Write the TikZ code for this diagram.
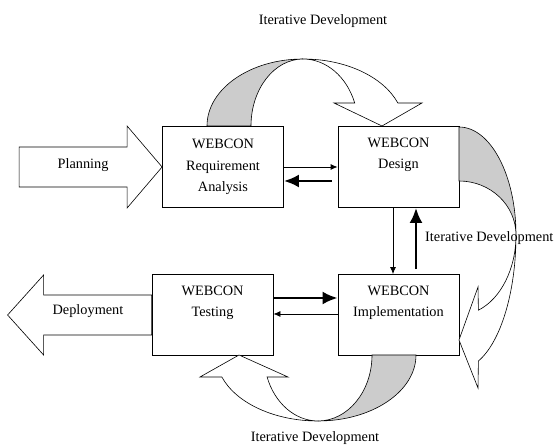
\documentclass[tikz,border=0pt]{standalone}
\usepackage{fontspec}
\setmainfont{Liberation Serif}
\usetikzlibrary{arrows.meta}
\tikzset{
  blk/.style   = {draw, line width=0.8pt, align=center, inner sep=2pt,
                  minimum width=121pt, minimum height=81pt},
  ar/.style    = {-{Latex[length=7pt,width=6pt]}, line width=0.8pt},
  arth/.style  = {-{Latex[length=15pt,width=13pt]}, line width=2.6pt},
  lbl/.style   = {inner sep=0pt},
  band/.style  = {draw, line width=0.6pt, fill=black!20},
  blank/.style = {draw, line width=0.6pt, fill=white},
}

\begin{document}
\begin{tikzpicture}[x=1pt, y=1pt, font=\fontsize{14.3}{21.5}\selectfont]
\useasboundingbox (0,0) rectangle (555,447);

% --- phase boxes ---
\node[blk] (req) at (223,280)   {WEBCON\\Requirement\\Analysis};
\node[blk] (des) at (398.5,280) {WEBCON\\Design\\\strut};
\node[blk] (imp) at (398.5,132) {WEBCON\\Implementation\\\strut};
\node[blk] (tst) at (212.5,132) {WEBCON\\Testing\\\strut};

% --- planning in, deployment out ---
\draw[blank] (req.west) -- ++(-35,-41) -- ++(0,21) -- ++(-108,0) -- ++(0,40)
     -- ++(108,0) -- ++(0,21) -- cycle;
\node (plan) at (83,282) {Planning};

\draw[blank] (tst.west) ++(0,20) -- ++(-108,0) -- ++(0,20) -- ++(-36,-40)
     -- ++(36,-40) -- ++(0,20) -- ++(108,0) -- cycle;
\node (dep) at (88,136) {Deployment};

% --- hand-offs between phases ---
\draw[ar] (req.east) -- (des.west);
\draw[arth, shorten <=6pt] ([yshift=-14pt]des.west) -- ([yshift=-14pt]req.east);
\draw[ar] ([xshift=-5.5pt]des.south) -- ([xshift=-5.5pt]imp.north);
\draw[arth, shorten <=5pt] ([xshift=17.5pt]imp.north) -- ([xshift=17.5pt]des.south);
\draw[arth] ([yshift=17pt]tst.east) -- ([yshift=17pt]imp.west);
\draw[ar] ([yshift=1pt]imp.west) -- ([yshift=1pt]tst.east);

% --- iterative development loops ---
% top: analysis -> design
\draw[band] (207,321) arc[start angle=180, end angle=90, x radius=96, y radius=67]
     arc[start angle=90, end angle=180, x radius=52, y radius=67] -- cycle;
\draw[blank] (303,388) arc[start angle=90, end angle=20.1, x radius=101, y radius=67]
     -- (422,344) -- (382,321) -- (334,344) -- (354.7,344)
     arc[start angle=20.1, end angle=90, x radius=55, y radius=67] -- cycle;

% right: design -> implementation
\draw[band] (459,320) arc[start angle=90, end angle=0, x radius=57, y radius=108]
     arc[start angle=0, end angle=90, x radius=57, y radius=54] -- cycle;
\draw[blank] (516,212) arc[start angle=0, end angle=-70.1, x radius=57, y radius=134]
     -- (478,59) -- (459,107) -- (478,160) -- (478.4,136.8)
     arc[start angle=-70.1, end angle=0, x radius=57, y radius=80] -- cycle;

% bottom: implementation -> testing
\draw[band] (416,92) arc[start angle=0, end angle=-90, x radius=98, y radius=66]
     arc[start angle=-90, end angle=0, x radius=54, y radius=66] -- cycle;
\draw[blank] (318,26) arc[start angle=-90, end angle=-160.5, x radius=102, y radius=66]
     -- (200,70) -- (239,92) -- (288,70) -- (267.1,70)
     arc[start angle=-160.5, end angle=-90, x radius=54, y radius=66] -- cycle;

\node[lbl] (itop) at (323,426) {Iterative Development};
\node[lbl, anchor=west] (iside) at (425,209) {Iterative Development};
\node[lbl] (ibot) at (315,9) {Iterative Development};
\end{tikzpicture}
\end{document}
